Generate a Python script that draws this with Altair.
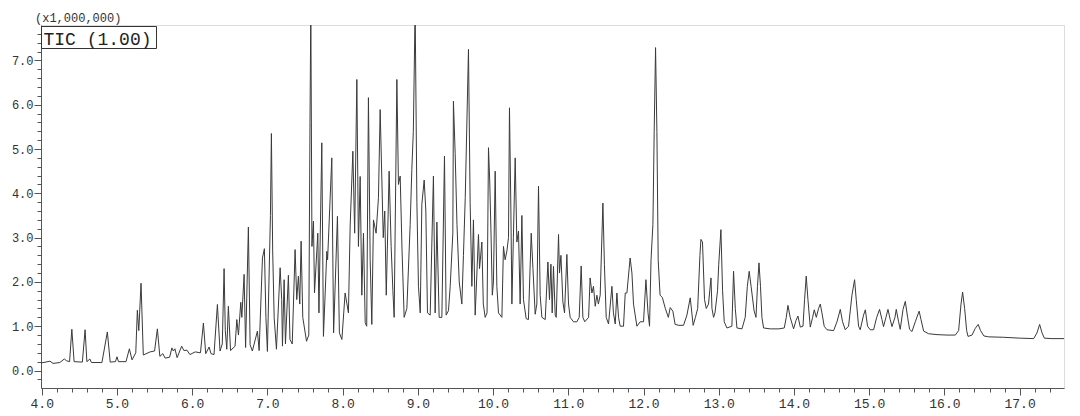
import altair as alt
import pandas as pd

# ---- retention time (min) / TIC intensity (x1,000,000) ----
rt_a = [3.99, 4.11, 4.15, 4.24, 4.30, 4.33, 4.37, 4.40, 4.43, 4.54,
        4.576, 4.60, 4.64, 4.66, 4.80, 4.872, 4.91, 4.98, 5.00, 5.02,
        5.12, 5.165, 5.20, 5.25, 5.271, 5.29, 5.32, 5.35, 5.44, 5.50,
        5.537, 5.57, 5.61, 5.64, 5.70, 5.73, 5.75, 5.77, 5.80, 5.86,
        5.89, 5.93, 5.97, 6.04, 6.11, 6.149, 6.18, 6.225, 6.25, 6.29,
        6.335, 6.37, 6.40, 6.424, 6.44, 6.46, 6.481, 6.51, 6.57, 6.593,
        6.615, 6.646, 6.66, 6.69, 6.71, 6.747, 6.77, 6.80, 6.867, 6.89,
        6.934, 6.96, 6.98]
tic_a = [0.17, 0.21, 0.16, 0.18, 0.26, 0.22, 0.20, 0.93, 0.20, 0.19,
         0.92, 0.20, 0.26, 0.18, 0.18, 0.87, 0.19, 0.20, 0.31, 0.20,
         0.20, 0.49, 0.24, 0.40, 1.36, 0.90, 1.97, 0.35, 0.42, 0.44,
         0.94, 0.32, 0.38, 0.28, 0.30, 0.51, 0.44, 0.49, 0.29, 0.55,
         0.45, 0.46, 0.36, 0.42, 0.40, 1.07, 0.38, 0.53, 0.38, 0.36,
         1.49, 0.44, 0.60, 2.30, 0.90, 0.48, 1.45, 0.45, 0.55, 1.15,
         0.80, 1.54, 1.20, 2.17, 0.52, 3.24, 0.58, 0.44, 0.89, 0.45,
         2.54, 2.75, 1.20]

rt_b = [7.00, 7.04, 7.053, 7.07, 7.09, 7.12, 7.169, 7.19, 7.20, 7.222,
        7.24, 7.279, 7.30, 7.33, 7.368, 7.39, 7.412, 7.43, 7.448, 7.47,
        7.52, 7.55, 7.566, 7.577, 7.592, 7.612, 7.626, 7.67, 7.685, 7.723,
        7.745, 7.79, 7.80, 7.856, 7.88, 7.931, 7.957, 7.99, 8.033, 8.077,
        8.10, 8.136, 8.16, 8.189, 8.21, 8.233, 8.255, 8.277, 8.30, 8.32,
        8.343, 8.366, 8.388, 8.41, 8.445, 8.476, 8.499, 8.54, 8.56, 8.58,
        8.618, 8.645, 8.668, 8.685, 8.721, 8.742, 8.765, 8.79, 8.818, 8.854,
        8.898, 8.92, 8.94, 8.964, 8.987, 9.008, 9.032, 9.053, 9.084, 9.106,
        9.128, 9.164, 9.207, 9.23, 9.253, 9.283, 9.319, 9.354, 9.376, 9.407,
        9.43, 9.465, 9.473, 9.496, 9.52, 9.55, 9.585, 9.606, 9.63, 9.673,
        9.695, 9.718]
tic_b = [0.43, 3.50, 5.35, 2.70, 1.19, 0.48, 2.32, 1.60, 0.55, 2.05,
         0.60, 2.15, 0.70, 0.60, 2.73, 1.60, 2.13, 1.50, 2.92, 1.20,
         0.66, 0.80, 5.60, 8.20, 2.80, 3.37, 1.75, 3.10, 1.30, 5.14,
         0.77, 2.69, 2.50, 4.80, 0.85, 3.48, 0.85, 0.70, 1.75, 1.30,
         3.26, 4.95, 3.10, 6.57, 2.80, 4.38, 1.70, 3.10, 1.08, 1.00,
         6.16, 2.50, 1.04, 3.40, 3.10, 3.90, 5.89, 3.00, 3.60, 1.70,
         4.50, 2.80, 1.80, 1.20, 6.57, 4.20, 4.39, 2.70, 1.20, 1.40,
         3.30, 4.54, 5.40, 8.20, 3.80, 1.90, 1.30, 3.75, 4.30, 3.60,
         1.30, 1.25, 4.39, 1.30, 3.35, 1.20, 1.20, 4.84, 1.25, 1.35,
         1.90, 3.10, 6.08, 4.90, 3.30, 2.00, 1.50, 2.60, 3.90, 7.25,
         3.80, 1.90]

rt_c = [9.739, 9.762, 9.806, 9.82, 9.851, 9.87, 9.895, 9.92, 9.939, 9.955,
        9.971, 9.99, 10.005, 10.028, 10.05, 10.072, 10.117, 10.138, 10.16, 10.184,
        10.205, 10.218, 10.237, 10.25, 10.27, 10.294, 10.316, 10.338, 10.36, 10.383,
        10.404, 10.44, 10.47, 10.507, 10.53, 10.56, 10.582, 10.604, 10.626, 10.649,
        10.693, 10.729, 10.75, 10.769, 10.786, 10.803, 10.826, 10.84, 10.87, 10.883,
        10.902, 10.928, 10.95, 10.981, 11.003, 11.025, 11.069, 11.114, 11.145, 11.171,
        11.194, 11.219, 11.27, 11.29, 11.314, 11.335, 11.358, 11.38, 11.40, 11.424,
        11.46, 11.48, 11.504, 11.535, 11.58, 11.60, 11.624, 11.646, 11.668, 11.69,
        11.734, 11.757, 11.779, 11.822, 11.846, 11.867, 11.912, 11.956, 12.00, 12.032,
        12.06, 12.08, 12.10, 12.125, 12.142, 12.16, 12.178, 12.195, 12.22, 12.25]
tic_c = [3.40, 1.25, 3.07, 2.30, 2.90, 1.50, 1.20, 1.30, 5.03, 4.30,
         3.20, 1.70, 2.00, 4.50, 1.90, 1.30, 1.20, 2.80, 2.50, 2.70,
         3.00, 5.93, 3.60, 1.50, 3.00, 4.80, 2.90, 3.15, 1.50, 3.50,
         1.60, 1.17, 1.15, 3.10, 2.30, 1.27, 1.50, 4.16, 1.70, 1.20,
         1.15, 2.45, 1.60, 2.40, 1.30, 2.35, 1.25, 1.20, 3.07, 2.20,
         2.60, 1.55, 1.30, 2.62, 1.50, 1.20, 1.10, 1.10, 1.20, 2.36,
         1.20, 1.10, 1.20, 2.09, 1.75, 1.90, 1.45, 1.70, 1.50, 1.70,
         3.78, 2.40, 1.20, 1.05, 1.90, 1.30, 1.05, 1.75, 1.20, 1.00,
         1.00, 1.75, 1.75, 2.54, 2.20, 1.50, 1.00, 1.10, 1.10, 2.05,
         1.30, 1.00, 2.50, 3.30, 5.40, 7.29, 5.40, 2.50, 1.70, 1.65]

rt_d = [12.29, 12.33, 12.355, 12.39, 12.42, 12.47, 12.532, 12.577, 12.621, 12.66,
        12.69, 12.72, 12.75, 12.763, 12.784, 12.811, 12.834, 12.864, 12.897, 12.91,
        12.931, 12.95, 12.984, 13.00, 13.029, 13.051, 13.073, 13.109, 13.175, 13.197,
        13.22, 13.242, 13.309, 13.352, 13.38, 13.405, 13.43, 13.47, 13.495, 13.515,
        13.535, 13.555, 13.574, 13.596, 13.685, 13.80, 13.871, 13.898, 13.92, 13.95,
        13.995, 14.027, 14.053, 14.084, 14.12, 14.141, 14.163, 14.186, 14.217, 14.248,
        14.27, 14.297, 14.327, 14.35, 14.372, 14.402, 14.439, 14.527, 14.572, 14.616,
        14.646, 14.682, 14.726, 14.771, 14.806, 14.828, 14.859, 14.881, 14.925, 14.949,
        14.978, 15.014, 15.059, 15.10, 15.138, 15.17, 15.191, 15.223, 15.25, 15.28,
        15.303, 15.343, 15.36, 15.391, 15.413, 15.45, 15.48, 15.511, 15.537, 15.569,
        15.613, 15.664, 15.689, 15.724, 15.79, 15.902, 16.035, 16.145, 16.189, 16.221,
        16.242, 16.269, 16.296, 16.314, 16.367, 16.41, 16.449, 16.481, 16.525, 16.588,
        16.787, 17.009, 17.187, 17.231, 17.266, 17.298, 17.329, 17.431, 17.59]
tic_d = [1.40, 1.20, 1.42, 1.34, 1.04, 1.02, 1.02, 1.25, 1.64, 1.02,
         1.20, 1.40, 2.60, 2.96, 2.90, 1.60, 1.40, 1.50, 2.09, 1.40,
         1.20, 1.30, 1.80, 2.40, 3.18, 1.80, 1.10, 0.96, 1.00, 2.24,
         1.40, 0.96, 0.94, 1.20, 1.90, 2.24, 1.90, 1.35, 1.20, 1.90,
         2.43, 1.90, 1.20, 0.96, 0.94, 0.94, 0.96, 1.20, 1.47, 1.20,
         0.94, 1.13, 1.23, 0.98, 1.00, 1.60, 2.13, 1.60, 0.98, 1.20,
         1.37, 1.20, 1.40, 1.50, 1.30, 1.00, 0.92, 0.90, 1.10, 1.38,
         1.10, 0.92, 1.00, 1.70, 2.05, 1.60, 1.00, 0.92, 1.25, 1.37,
         1.00, 0.92, 0.92, 1.20, 1.38, 1.15, 0.99, 1.20, 1.38, 1.15,
         0.99, 1.20, 1.38, 1.10, 0.93, 1.38, 1.56, 1.20, 0.93, 0.88,
         1.10, 1.34, 1.15, 0.89, 0.83, 0.81, 0.80, 0.80, 0.90, 1.50,
         1.77, 1.40, 0.90, 0.77, 0.80, 0.95, 1.04, 0.90, 0.78, 0.76,
         0.75, 0.73, 0.72, 0.85, 1.04, 0.85, 0.73, 0.72, 0.72]

# ---- axis ticks / labels ----
x_major = [4, 5, 6, 7, 8, 9, 10, 11, 12, 13, 14, 15, 16, 17]
x_minor = [round(4.0 + 0.2 * i, 1) for i in range(68)]
y_major = [0, 1, 2, 3, 4, 5, 6, 7]
y_minor = [round(-0.2 + 0.2 * i, 1) for i in range(40)]
scale_note = ["(x1,000,000)"]
trace_label = ["TIC (1.00)"]

df = pd.DataFrame({
    "rt": rt_a + rt_b + rt_c + rt_d,
    "tic": tic_a + tic_b + tic_c + tic_d,
})

FONT = "Liberation Mono"
AX = "#555555"
TXT = "#333333"

xscale = alt.Scale(domain=[3.99, 17.59], nice=False, zero=False)
yscale = alt.Scale(domain=[-0.395, 7.80], nice=False, zero=False)

line = alt.Chart(df).mark_line(color="#3a3a3a", strokeWidth=1, clip=True).encode(
    x=alt.X("rt:Q", scale=xscale,
            axis=alt.Axis(orient="bottom", values=x_major, format=".1f", title=None, grid=False,
                          tickSize=7, tickColor=AX, domainColor=AX, labelFont=FONT,
                          labelFontSize=13, labelColor=TXT, labelPadding=2, labelFlush=False)),
    y=alt.Y("tic:Q", scale=yscale,
            axis=alt.Axis(orient="left", values=y_major, format=".1f", title=None, grid=False,
                          tickSize=7, tickColor=AX, domainColor=AX, labelFont=FONT,
                          labelFontSize=12, labelColor=TXT, labelPadding=1, labelFlush=False)),
)

minor = alt.Chart(df).mark_line(opacity=0).encode(
    x=alt.X("rt:Q", scale=xscale,
            axis=alt.Axis(orient="bottom", values=x_minor, labels=False, domain=False,
                          title=None, grid=False, tickSize=4, tickColor=AX)),
    y=alt.Y("tic:Q", scale=yscale,
            axis=alt.Axis(orient="left", values=y_minor, labels=False, domain=False,
                          title=None, grid=False, tickSize=4, tickColor=AX)),
)

note = alt.Chart(pd.DataFrame({"t": scale_note})).mark_text(
    font=FONT, fontSize=12, color=TXT, align="left", baseline="alphabetic"
).encode(text="t:N", x=alt.value(-6), y=alt.value(-3))

box = alt.Chart(pd.DataFrame({"t": trace_label})).mark_rect(
    fillOpacity=0, stroke="#333333", strokeWidth=1
).encode(x=alt.value(0.5), x2=alt.value(115.5), y=alt.value(1.5), y2=alt.value(23.5))

label = alt.Chart(pd.DataFrame({"t": trace_label})).mark_text(
    font=FONT, fontSize=18, color="#222222", align="left", baseline="alphabetic"
).encode(text="t:N", x=alt.value(2.5), y=alt.value(20))

chart = alt.layer(line, minor, box, label, note).resolve_axis(
    x="independent", y="independent"
).properties(
    width=1023, height=363,
    autosize=alt.AutoSizeParams(type="none"),
    padding={"left": 33, "top": 17, "right": 8, "bottom": 26},
).configure_view(stroke=AX, strokeWidth=1).configure(background="white")

chart.save("out.html", embed_options={"renderer": "svg", "actions": False})
